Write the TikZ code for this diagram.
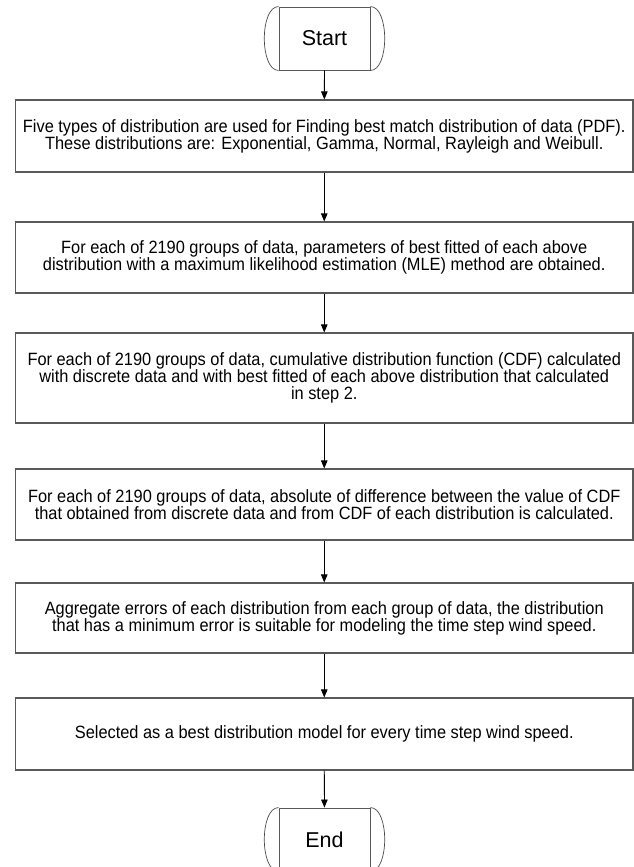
\documentclass[tikz,border=0pt]{standalone}
\usepackage{fontspec}
\setmainfont{Liberation Sans}
\newfontfamily\narrowfont{Liberation Sans}[FakeStretch=0.92]
\usetikzlibrary{arrows.meta}
\tikzset{
  stepbox/.style={draw=black!65, line width=1.1pt, rectangle, minimum width=617.5pt,
    align=center, inner sep=0pt, font=\narrowfont\fontsize{17.8}{17}\selectfont},
  termbox/.style={draw=black!65, line width=0.9pt, rectangle, minimum width=91pt,
    minimum height=63pt, inner sep=0pt, font=\fontsize{21.5}{24}\selectfont},
  arcline/.style={draw=black!70, line width=0.7pt},
  arr/.style={draw=black, line width=0.8pt, -{Triangle[length=8pt,width=6.5pt]}}
}
\begin{document}
\begin{tikzpicture}[x=1pt,y=-1pt]
\useasboundingbox[fill=white] (0,0) rectangle (634,867);

\node[termbox] (st) at (324.5,38.5) {Start};
\node[stepbox, minimum height=72pt] (b1) at (324.25,136) {Five types of distribution are used for Finding best match distribution of data (PDF).\\These distributions are: Exponential, Gamma, Normal, Rayleigh and Weibull.};
\node[stepbox, minimum height=71pt] (b2) at (324.25,257.5) {For each of 2190 groups of data, parameters of best fitted of each above\\distribution with a maximum likelihood estimation (MLE) method are obtained.};
\node[stepbox, minimum height=90pt] (b3) at (324.25,378) {For each of 2190 groups of data, cumulative distribution function (CDF) calculated\\with discrete data and with best fitted of each above distribution that calculated\\in step 2.};
\node[stepbox, minimum height=71pt] (b4) at (324.25,504.5) {For each of 2190 groups of data, absolute of difference between the value of CDF\\that obtained from discrete data and from CDF of each distribution is calculated.};
\node[stepbox, minimum height=70pt] (b5) at (324.25,618) {Aggregate errors of each distribution from each group of data, the distribution\\that has a minimum error is suitable for modeling the time step wind speed.};
\node[stepbox, minimum height=72pt] (b6) at (324.25,734) {Selected as a best distribution model for every time step wind speed.};
\node[termbox] (en) at (324.5,839.5) {End};

\foreach \t in {st,en}{
  \draw[arcline] (\t.north west) .. controls +(-19,0) and +(-19,0) .. (\t.south west);
  \draw[arcline] (\t.north east) .. controls +(19,0) and +(19,0) .. (\t.south east);
}

\draw[arr] (st) -- (b1);
\draw[arr] (b1) -- (b2);
\draw[arr] (b2) -- (b3);
\draw[arr] (b3) -- (b4);
\draw[arr] (b4) -- (b5);
\draw[arr] (b5) -- (b6);
\draw[arr] (b6) -- (en);
\end{tikzpicture}
\end{document}
